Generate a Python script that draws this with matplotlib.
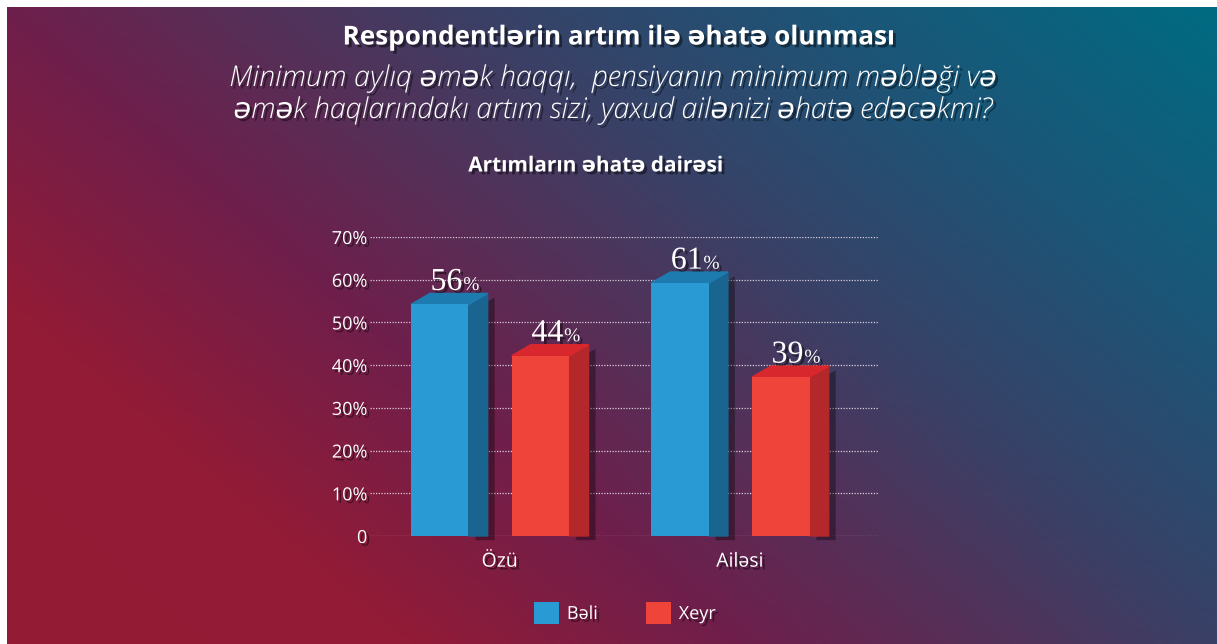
import numpy as np
import matplotlib.pyplot as plt
import matplotlib.patheffects as pe
from matplotlib.colors import LinearSegmentedColormap

# data
categories = ['Özü', 'Ailəsi']
beli = [56, 61]
xeyr = [44, 39]
yticks = [0, 10, 20, 30, 40, 50, 60, 70]
ytick_labels = ['0', '10%', '20%', '30%', '40%', '50%', '60%', '70%']

title = 'Respondentlərin artım ilə əhatə olunması'
subtitle1 = 'Minimum aylıq əmək haqqı,  pensiyanın minimum məbləği və'
subtitle2 = 'əmək haqlarındakı artım sizi, yaxud ailənizi əhatə edəcəkmi?'
chart_title = 'Artımların əhatə dairəsi'

W, H = 1217, 644
plt.rcParams['font.family'] = ['Open Sans', 'DejaVu Sans']

fig = plt.figure(figsize=(W / 100, H / 100), dpi=100, facecolor='white')

# gradient background
bg = fig.add_axes([7 / W, 0, (W - 7) / W, (H - 7) / H])
bg.axis('off')
xx, yy = np.meshgrid(np.linspace(0, 1, 400), np.linspace(1, 0, 220))
t = 0.62 * xx + 0.38 * yy
cmap = LinearSegmentedColormap.from_list('bg', [(0, '#951b34'), (0.2, '#931b36'), (0.38, '#6e1f4c'),
                                                (0.5, '#553058'), (0.62, '#3a4066'), (0.8, '#1c5577'),
                                                (1, '#006b82')])
bg.imshow(t, cmap=cmap, aspect='auto', extent=[0, 1, 0, 1], vmin=0, vmax=1, interpolation='bilinear')

shadow = [pe.SimplePatchShadow(offset=(2, -2), shadow_rgbFace='black', alpha=0.45), pe.Normal()]
fig.text(619 / W, 1 - 37 / H, title, ha='center', va='center', color='white', fontsize=18.8,
         fontweight='bold', path_effects=shadow)
fig.text(613 / W, 1 - 78 / H, subtitle1, ha='center', va='center', color='white', fontsize=20.6,
         style='italic', fontweight='light', path_effects=shadow)
fig.text(613 / W, 1 - 110 / H, subtitle2, ha='center', va='center', color='white', fontsize=20.6,
         style='italic', fontweight='light', path_effects=shadow)
fig.text(596 / W, 1 - 166 / H, chart_title, ha='center', va='center', color='white', fontsize=15,
         fontweight='bold', path_effects=shadow)

ax = fig.add_axes([370 / W, (H - 536) / H, (878 - 370) / W, (536 - 237) / H])
ax.set_facecolor('none')
ax.set_xlim(-0.54, 1.575)
ax.set_ylim(0, 70)
for s in ax.spines.values():
    s.set_visible(False)
ax.set_yticks(yticks)
ax.set_yticklabels(ytick_labels)
ax.yaxis.grid(True, linestyle=(0, (1, 1.2)), color='#d9cdd9', lw=0.9)
ax.set_axisbelow(True)
ax.tick_params(axis='y', length=0, pad=2, labelcolor='white', labelsize=13)
x = np.arange(len(categories))
ax.set_xticks(x)
ax.set_xticklabels(categories)
ax.tick_params(axis='x', length=0, pad=12, labelcolor='white', labelsize=14)
for lbl in ax.get_yticklabels() + ax.get_xticklabels():
    lbl.set_path_effects(shadow)

w, dx, dy, lift = 0.24, 0.08, 2.6, 1.8
series = [(beli, -0.37, ('#2a9ad4', '#1a6590', '#1d7bb0'), 'Bəli'),
          (xeyr, 0.05, ('#ef443a', '#b4272a', '#d9272e'), 'Xeyr')]
bar_shadow = [pe.SimplePatchShadow(offset=(5, -3), shadow_rgbFace='black', alpha=0.35), pe.Normal()]
handles = []
for vals, off, (front, side, top), name in series:
    for xi, v in zip(x, vals):
        xl = xi + off
        xr = xl + w
        h = v - lift
        ax.fill([xr, xr + dx, xr + dx, xr], [0, 0, h + dy, h], color=side, zorder=3,
                path_effects=bar_shadow, clip_on=False)
        ax.fill([xl, xl + dx, xr + dx, xr], [h, h + dy, h + dy, h], color=top, zorder=3, clip_on=False)
        ax.text(xr - 0.025, v + 1.6, str(v), ha='right', va='baseline', color='white',
                fontsize=23, family='Liberation Serif', path_effects=shadow, clip_on=False)
        ax.text(xr - 0.022, v + 1.6, '%', ha='left', va='baseline', color='white',
                fontsize=14, family='Liberation Serif', path_effects=shadow, clip_on=False)
    b = ax.bar(x + off, [v - lift for v in vals], width=w, align='edge', color=front, zorder=4,
               label=name)
    handles.append(b)

leg = fig.legend(handles=handles, loc='center', bbox_to_anchor=(625 / W, 1 - 613 / H), ncol=2,
                 frameon=False, fontsize=13, handlelength=1.35, handleheight=1.5,
                 handletextpad=0.45, columnspacing=2.7)
for txt in leg.get_texts():
    txt.set_color('white')
    txt.set_path_effects(shadow)

fig.savefig('out.png', dpi=100, facecolor=fig.get_facecolor())
